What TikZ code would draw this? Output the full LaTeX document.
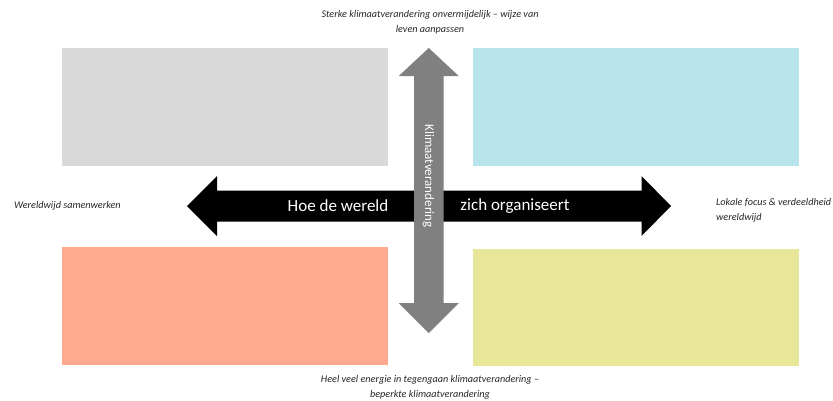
\documentclass[tikz,border=0pt]{standalone}
\usepackage{fontspec}
\setmainfont{Carlito}
\usetikzlibrary{calc}
\tikzset{>=latex}
\definecolor{vakgrijs}{HTML}{D9D9D9}
\definecolor{vakblauw}{HTML}{B7E4EA}
\definecolor{vakrood}{HTML}{FFA98F}
\definecolor{vakgeel}{HTML}{E8E699}
\definecolor{pijlgrijs}{HTML}{808080}
\tikzset{
    hoektekst/.style={font=\itshape\fontsize{10.2}{15}\selectfont, text=black!85, align=center, inner sep=0pt},
    pijltekst/.style={text=white, font=\fontsize{17}{19}\selectfont, inner sep=0pt},
}

\begin{document}
\begin{tikzpicture}[x=1pt, y=-1pt, line join = round]
    \useasboundingbox (0,0) rectangle (833,400);
    \foreach \x/\y/\h/\kleur in {62/48/118/vakgrijs, 473/48/118/vakblauw, 62/247/118/vakrood, 473/249/117/vakgeel}{
        \fill[\kleur] (\x,\y) rectangle ++(326,\h);
    }
    % horizontale pijl
    \fill[black] (187,206) -- (217,176) -- (217,190.5) -- (641.5,190.5) -- (641.5,176) -- (671,206)
        -- (641.5,236) -- (641.5,221.5) -- (217,221.5) -- (217,236) -- cycle;
    \node[pijltekst] (hoe) at (338,206) {Hoe de wereld};
    \node[pijltekst] (zich) at (515,206) {zich organiseert};
    % verticale pijl
    \fill[pijlgrijs] (428.75,48) -- (458.75,76) -- (443.5,76) -- (443.5,303) -- (458.75,303) -- (428.75,333)
        -- (398.75,303) -- (414,303) -- (414,76) -- (398.75,76) -- cycle;
    \node[pijltekst, font=\fontsize{13}{15}\selectfont, rotate=-90] (klimaat) at (428.5,176) {Klimaatverandering};
    % teksten bij de assen
    \node[hoektekst] (boven) at (430,22.5) {Sterke klimaatverandering onvermijdelijk -- wijze van\\leven aanpassen};
    \node[hoektekst] (onder) at (430,387.5) {Heel veel energie in tegengaan klimaatverandering --\\beperkte klimaatverandering};
    \node[hoektekst, anchor=west] (links) at (14,206) {Wereldwijd samenwerken};
    \node[hoektekst, anchor=west, align=left] (rechts) at (716,210) {Lokale focus \& verdeeldheid\\wereldwijd};
\end{tikzpicture}
\end{document}
